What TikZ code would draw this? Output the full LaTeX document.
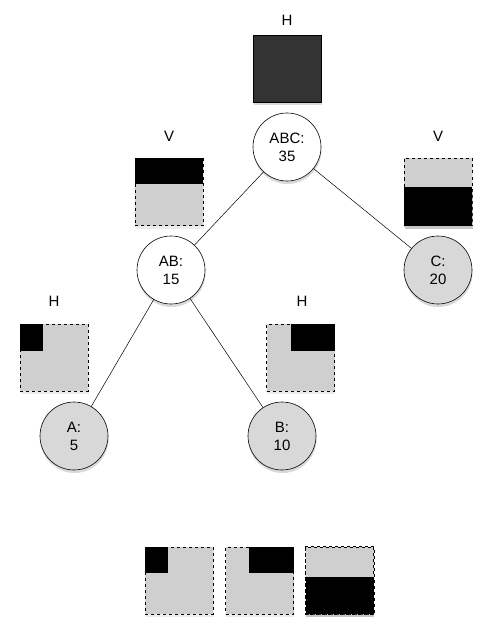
\documentclass[tikz,border=0pt]{standalone}
\usepackage{fontspec}
\setmainfont{Liberation Sans}
\usetikzlibrary{shadows}
\definecolor{panelgray}{HTML}{CFCFCF}
\definecolor{nodegray}{HTML}{D8D8D8}
\definecolor{darkfill}{HTML}{333333}
\tikzset{
  lbl/.style={font=\fontsize{15}{18}\selectfont, inner sep=0pt},
  shade3/.style={drop shadow={opacity=0.3, shadow xshift=0.5pt, shadow yshift=-3pt}},
  circ/.style={circle, draw, line width=0.6pt, minimum size=68pt, inner sep=0pt, align=center,
    font=\fontsize{15}{18}\selectfont, shade3},
  whitec/.style={circ, fill=white},
  grayc/.style={circ, fill=nodegray},
  panel/.style={rectangle, draw, dashed, line width=0.6pt, fill=panelgray, minimum width=68pt,
    minimum height=67pt, inner sep=0pt, drop shadow={opacity=0.15, shadow xshift=0.5pt, shadow yshift=-3pt}},
  darkpanel/.style={rectangle, draw, line width=0.6pt, fill=darkfill, minimum width=68pt,
    minimum height=67pt, inner sep=0pt, shade3},
  edge/.style={draw, line width=0.5pt},
}
\begin{document}
\begin{tikzpicture}[x=1pt,y=-1pt]
\useasboundingbox (0,0) rectangle (491,639);
% panels
\node[darkpanel] (ptop) at (287,68.5) {};
\node[lbl] (htop) at (287,20) {H};

\node[panel] (pvl) at (169,192) {};
\fill[black] (pvl.north west) rectangle ++(68,26);
\node[lbl] (vl) at (169,136) {V};

\node[panel] (pvr) at (438,192) {};
\node[rectangle, fill=black, minimum width=68pt, minimum height=39pt, inner sep=0pt,
  drop shadow={opacity=0.35, shadow xshift=0.5pt, shadow yshift=-3pt}] (pvrb) at (438,206.5) {};
\node[lbl] (vr) at (438,136) {V};

\node[panel] (pha) at (54,357.5) {};
\fill[black] (pha.north west) rectangle ++(23,27);
\node[lbl] (ha) at (54,301) {H};

\node[panel] (phb) at (300.5,357.5) {};
\fill[black] (phb.north east) rectangle ++(-44,27);
\node[lbl] (hb) at (302,301) {H};

\node[panel] (b1) at (179,580.5) {};
\fill[black] (b1.north west) rectangle ++(23,26);
\node[panel] (b2) at (259.5,580.5) {};
\fill[black] (b2.north east) rectangle ++(-45,26);
\node[panel] (b3) at (339.5,580.5) {};
\node[rectangle, fill=black, minimum width=68pt, minimum height=37pt, inner sep=0pt,
  drop shadow={opacity=0.35, shadow xshift=0.5pt, shadow yshift=-3pt}] (b3b) at (339.5,595.5) {};
\draw[dashed, line width=0.6pt] (b3.north west) rectangle (b3.south east);

% tree
\node[whitec] (abc) at (287,147) {ABC:\\35};
\node[whitec] (ab) at (171,270) {AB:\\15};
\node[grayc] (c) at (438,270) {C:\\20};
\node[grayc] (a) at (74,436) {A:\\5};
\node[grayc] (b) at (282,436) {B:\\10};

\draw[edge] (abc) -- (ab);
\draw[edge] (abc) -- (c);
\draw[edge] (ab) -- (a);
\draw[edge] (ab) -- (b);
\end{tikzpicture}
\end{document}
